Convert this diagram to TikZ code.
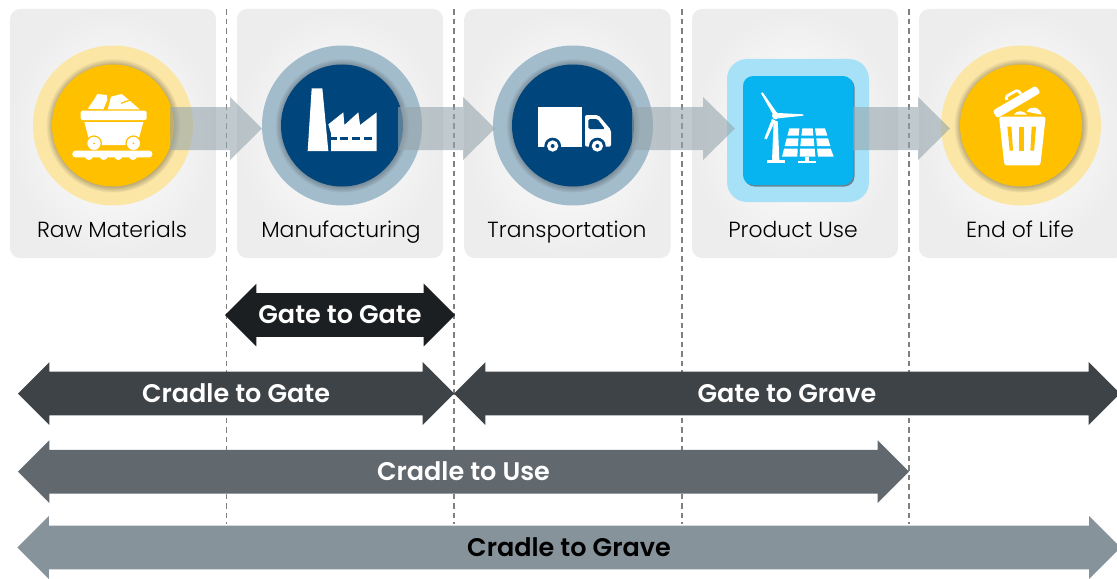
\documentclass[tikz,border=0pt]{standalone}
\usepackage{fontspec}
\setmainfont{Poppins Light}
\newfontfamily\spanfont{Poppins SemiBold}
\usetikzlibrary{positioning, calc, shapes, shapes.arrows, arrows.meta, shadows}

\definecolor{goldcore}{HTML}{FFC000}
\definecolor{goldring}{HTML}{FBE6A6}
\definecolor{navycore}{HTML}{00457C}
\definecolor{navyring}{HTML}{A3BCCC}
\definecolor{cyancore}{HTML}{08B4F0}
\definecolor{cyanring}{HTML}{A6E1F7}
\definecolor{flowgray}{RGB}{150,165,172}
\definecolor{spanblack}{HTML}{1C1F21}
\definecolor{spandark}{HTML}{3E4347}
\definecolor{spanmid}{HTML}{62696E}
\definecolor{spanpale}{HTML}{86939B}

\begin{document}
\begin{tikzpicture}[x=0.2mm, y=-0.2mm, every node/.style={inner sep=0pt, outer sep=0pt}]
  % Styles
  \tikzset{
    panel/.style={rectangle, rounded corners=2mm, minimum width=41.2mm, minimum height=49.8mm, inner color=white, outer color=black!7},
    ring/.style={circle, minimum size=32mm},
    core/.style={circle, minimum size=24.4mm, circular drop shadow={shadow xshift=0pt, shadow yshift=0pt, shadow scale=1.1, fill=black, opacity=.4}},
    panellabel/.style={font=\fontsize{12.45}{15}\selectfont, text=black, text height=3mm, text depth=1mm},
    cutline/.style={draw=black!50, line width=0.3mm, dash pattern=on 1.1mm off 0.8mm},
    flow/.style={fill=flowgray, opacity=.6, to path={
      ($(\tikztostart)+(0,-21.5)$) -- ($(\tikztotarget)+(-32,-21.5)$) -- ($(\tikztotarget)+(-32,-31.5)$) -- (\tikztotarget)
      -- ($(\tikztotarget)+(-32,31.5)$) -- ($(\tikztotarget)+(-32,21.5)$) -- ($(\tikztostart)+(0,21.5)$) -- cycle}},
    span/.style={double arrow, double arrow tip angle=90, double arrow head extend=1.9mm, minimum width=12.4mm, text height=6mm, text depth=2.6mm, font=\spanfont\fontsize{14.5}{17}\selectfont, text=white},
    iconscale/.style={x=0.0667mm, y=-0.0667mm}
  }

  \clip (0,0) rectangle (1117,578);

  % Stage panels
  \node[panel] (rawpanel) at (113,133.5) {};
  \node[panel] (manupanel) at (340,133.5) {};
  \node[panel] (transpanel) at (567.5,133.5) {};
  \node[panel] (usepanel) at (795,133.5) {};
  \node[panel] (endpanel) at (1022,133.5) {};

  % Dashed cuts
  \coordinate (cuta) at (226.5,9);
  \coordinate (cutb) at (454,9);
  \coordinate (cutc) at (682,9);
  \coordinate (cutd) at (909,9);
  \coordinate (cutaend) at (226.5,524);
  \coordinate (cutbend) at (454,524);
  \coordinate (cutcend) at (682,524);
  \coordinate (cutdend) at (909,524);
  \draw[cutline] (cuta) -- (cutaend);
  \draw[cutline] (cutb) -- (cutbend);
  \draw[cutline] (cutc) -- (cutcend);
  \draw[cutline] (cutd) -- (cutdend);

  % Stage icons backgrounds
  \node[ring, fill=goldring] (raw) at (113,125.5) {};
  \node[core, fill=goldcore] (rawcore) at (113,125.5) {};
  \node[ring, fill=navyring] (manu) at (342,125.5) {};
  \node[core, fill=navycore] (manucore) at (342,125.5) {};
  \node[ring, fill=navyring] (trans) at (573,125.5) {};
  \node[core, fill=navycore] (transcore) at (573,125.5) {};
  \node[rectangle, rounded corners=4mm, minimum width=28.4mm, minimum height=28.6mm, fill=cyanring] (use) at (798,130.5) {};
  \node[rectangle, rounded corners=2mm, minimum width=22mm, minimum height=21.8mm, fill=cyancore, drop shadow={shadow xshift=0.3mm, shadow yshift=-0.3mm, fill=black, opacity=.4}] (usecore) at (798,130.5) {};
  \node[ring, fill=goldring] (end) at (1021,125.5) {};
  \node[core, fill=goldcore] (endcore) at (1021,125.5) {};

  % Mine cart
  \begin{scope}[shift={(65,80)}, iconscale]
    \fill[white] (68,86) -- (85,62) -- (97,42) -- (125,45) -- (127,60) -- (115,88) -- cycle;
    \fill[white] (128,88) -- (138,50) -- (170,42) -- (192,60) -- (224,88) -- cycle;
    \draw[goldcore, line width=0.25mm] (168,70) -- (195,60);
    \fill[white, rounded corners=0.4mm] (47,92) rectangle (245,120);
    \fill[white] (58,126) -- (235,126) -- (216,195) -- (76,195) -- cycle;
    \fill[white, draw=goldcore, line width=0.25mm] (87,190) circle (22);
    \fill[white, draw=goldcore, line width=0.25mm] (205,190) circle (22);
    \fill[goldcore] (87,190) circle (3);
    \fill[goldcore] (205,190) circle (3);
    \fill[white, rounded corners=0.6mm] (22,212) rectangle (262,232);
    \fill[white] (72,228) circle (12);
    \fill[white] (116,228) circle (12);
    \fill[white] (160,228) circle (12);
    \fill[white] (204,228) circle (12);
  \end{scope}

  % Factory
  \begin{scope}[shift={(295,80)}, iconscale]
    \fill[white] (50,25) -- (82,25) -- (100,213) -- (38,213) -- cycle;
    \fill[white] (100,133) -- (145,97) -- (148,135) -- (190,97) -- (195,135) -- (245,97) -- (245,213) -- (108,213) -- (108,160) -- cycle;
    \fill[navycore] (108,170) rectangle (125,180);
    \fill[navycore] (136,170) rectangle (160,180);
    \fill[navycore] (172,170) rectangle (195,180);
    \fill[navycore] (208,170) rectangle (232,180);
  \end{scope}

  % Truck
  \begin{scope}[shift={(530,90)}, iconscale]
    \fill[white] (25,52) rectangle (157,170);
    \fill[white, rounded corners=0.4mm] (165,170) -- (165,75) -- (205,75) -- (243,120) -- (243,170) -- cycle;
    \fill[navycore, rounded corners=0.3mm] (175,87) -- (202,87) -- (225,117) -- (175,117) -- cycle;
    \fill[navycore] (68,168) circle (25);
    \fill[white] (68,168) circle (17);
    \fill[navycore] (68,168) circle (6);
    \fill[navycore] (202,168) circle (25);
    \fill[white] (202,168) circle (17);
    \fill[navycore] (202,168) circle (6);
  \end{scope}

  % Turbine and solar panels
  \begin{scope}[shift={(750,85)}, iconscale]
    \fill[white] (33,25) -- (38,22) -- (82,85) -- (70,90) -- cycle;
    \fill[white] (85,84) -- (160,88) -- (160,92) -- (85,100) -- cycle;
    \fill[white] (66,102) -- (76,106) -- (50,163) -- (43,160) -- cycle;
    \fill[white] (77,92) circle (11);
    \fill[white] (71,108) -- (83,108) -- (88,226) -- (66,226) -- cycle;
    \fill[white] (52,226) rectangle (105,235);
    \fill[white] (118,130) -- (148,130) -- (146,152) -- (112,152) -- cycle;
    \fill[white] (157,130) -- (188,130) -- (190,152) -- (154,152) -- cycle;
    \fill[white] (195,130) -- (225,130) -- (232,152) -- (198,152) -- cycle;
    \fill[white] (110,160) -- (145,160) -- (144,183) -- (104,183) -- cycle;
    \fill[white] (153,160) -- (191,160) -- (193,183) -- (151,183) -- cycle;
    \fill[white] (199,160) -- (234,160) -- (241,183) -- (201,183) -- cycle;
    \fill[white] (102,191) -- (143,191) -- (142,215) -- (96,215) -- cycle;
    \fill[white] (150,191) -- (194,191) -- (196,215) -- (149,215) -- cycle;
    \fill[white] (201,191) -- (242,191) -- (251,215) -- (204,215) -- cycle;
    \fill[white] (165,215) rectangle (178,228);
    \fill[white] (145,228) rectangle (198,235);
  \end{scope}

  % Waste bin
  \begin{scope}[shift={(975,80)}, iconscale]
    \draw[white, line width=0.55mm, rounded corners=0.3mm] (96,60) -- (92,50) -- (128,30) -- (138,42);
    \fill[white, rounded corners=0.5mm] (53,92) -- (182,17) -- (197,38) -- (66,115) -- cycle;
    \fill[white] (116,104) .. controls (125,90) and (145,90) .. (156,104) -- cycle;
    \fill[white] (155,95) .. controls (165,75) and (195,80) .. (200,104) -- cycle;
    \fill[white, rounded corners=0.5mm] (72,110) -- (212,110) -- (196,256) -- (88,256) -- cycle;
    \fill[goldcore] (97,140) -- (109,140) -- (114,212) -- (104,212) -- cycle;
    \fill[goldcore] (133,140) -- (147,140) -- (147,212) -- (133,212) -- cycle;
    \fill[goldcore] (170,140) -- (183,140) -- (177,212) -- (166,212) -- cycle;
  \end{scope}

  % Flows between stages
  \coordinate (rawout) at (170,128.5);
  \coordinate (manuin) at (262,128.5);
  \coordinate (manuout) at (398,128.5);
  \coordinate (transin) at (495,128.5);
  \coordinate (transout) at (632,128.5);
  \coordinate (usein) at (735,128.5);
  \coordinate (useout) at (853,128.5);
  \coordinate (endin) at (950,128.5);
  \path[flow] (rawout) to (manuin);
  \path[flow] (manuout) to (transin);
  \path[flow] (transout) to (usein);
  \path[flow] (useout) to (endin);

  % Stage labels
  \node[panellabel] (rawlabel) at (112,232) {Raw Materials};
  \node[panellabel] (manulabel) at (341,232) {Manufacturing};
  \node[panellabel] (translabel) at (567,232) {Transportation};
  \node[panellabel] (uselabel) at (793,232) {Product Use};
  \node[panellabel] (endlabel) at (1020,232) {End of Life};

  % Life cycle spans
  \node[span, minimum height=46mm, fill=spanblack] (gategate) at (340,315) {Gate to Gate};
  \node[span, minimum height=87.2mm, fill=spandark] (cradlegate) at (236,393.5) {Cradle to Gate};
  \node[span, minimum height=133.2mm, fill=spandark] (gategrave) at (787,393.5) {Gate to Grave};
  \node[span, minimum height=178.2mm, fill=spanmid] (cradleuse) at (463.5,471.7) {Cradle to Use};
  \node[span, minimum height=220.6mm, fill=spanpale, text=black] (cradlegrave) at (569,547.5) {Cradle to Grave};
\end{tikzpicture}
\end{document}
